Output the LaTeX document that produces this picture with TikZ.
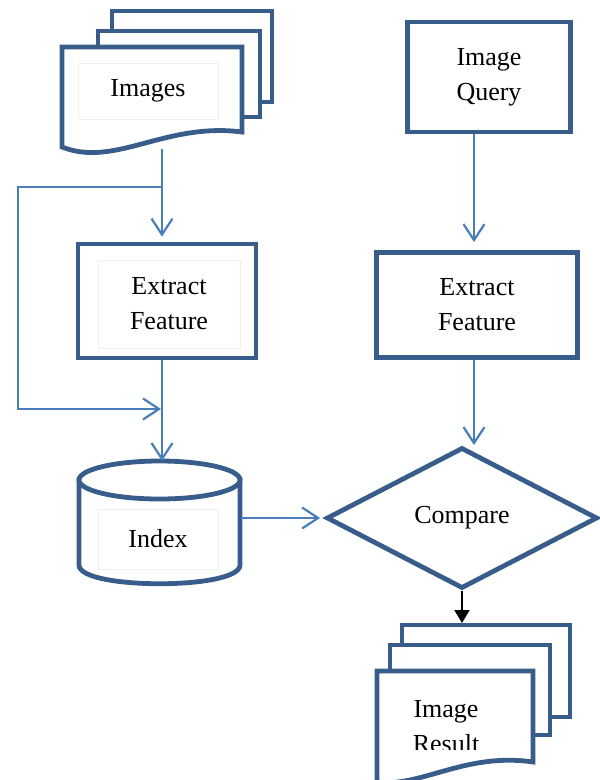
\documentclass[tikz,border=0pt]{standalone}
\usepackage{fontspec}
\setmainfont{Liberation Serif}
\usetikzlibrary{arrows.meta,shapes.geometric}
\definecolor{boxblue}{HTML}{385D8A}
\definecolor{lineblue}{HTML}{4A7EBB}
\definecolor{framegray}{HTML}{EFEFEF}

\begin{document}
\begin{tikzpicture}[x=1pt, y=-1pt,
  box/.style={draw=boxblue, line width=4.8pt, fill=white, align=center},
  page/.style={draw=boxblue, line width=4.8pt, fill=white},
  frame/.style={draw=framegray, line width=1pt, align=center},
  decision/.style={diamond, draw=boxblue, line width=4.8pt, fill=white, inner sep=0pt, aspect=1.9},
  flow/.style={draw=lineblue, line width=2.2pt, -{Straight Barb[length=16pt,width=21pt]}},
  outflow/.style={draw=black, line width=2pt, -{Triangle[length=13pt,width=15pt]}}]
  \fontsize{26}{35}\selectfont
  \useasboundingbox (0,0) rectangle (600,780);

  % images stack
  \draw[page] (112,11) rectangle (272,102);
  \draw[page] (98,31) rectangle (260,117);
  \draw[page] (62,147) -- (62,47) -- (242,47) -- (242,132) .. controls (165,122) and (115,168) .. (62,147) -- cycle;
  \node[frame, minimum width=140, minimum height=56] (images) at (148,91) {Images};

  \node[box, minimum width=178, minimum height=114] (extract1) at (167,301) {};
  \node[frame, minimum width=142, minimum height=88] (feat1) at (169,304) {Extract\\Feature};

  % index cylinder
  \draw[page] (79,480) -- (79,565) .. controls (79,590) and (240,590) .. (240,565) -- (240,480) -- cycle;
  \draw[page] (159.5,480) ellipse [x radius=80.5pt, y radius=19pt];
  \node[frame, minimum width=120, minimum height=60] (index) at (158,539) {Index};
  \coordinate (indextop) at (162,461);
  \coordinate (indexright) at (241,518);

  \node[box, minimum width=163, minimum height=110] (query) at (489,77) {Image\\Query};
  \node[box, minimum width=201, minimum height=105] (extract2) at (477,305) {Extract\\Feature};
  \node[decision, minimum width=271, minimum height=141] (compare) at (462,518) {Compare};

  % result stack
  \draw[page] (402,625) rectangle (570,717);
  \draw[page] (390,645) rectangle (550,735);
  \draw[page] (377,790) -- (377,671) -- (533,671) -- (533,762) .. controls (465,752) and (420,788) .. (377,782);
  \begin{scope}
    \clip (380,680) rectangle (530,749);
    \node[align=center] (result) at (446,727) {Image\\Result};
  \end{scope}

  \coordinate (imgout) at (162,149);
  \coordinate (fork) at (162,187);
  \coordinate (merge) at (161,409);
  \coordinate (qx) at (474,0);
  \coordinate (restop) at (462,623);

  \draw[flow, shorten >=5pt] (imgout) -- (imgout |- extract1.north);
  \draw[flow] (fork) -- ++(-144,0) |- (merge);
  \draw[flow] (extract1.south -| fork) -- (indextop);
  \draw[flow, shorten >=4pt] (indexright) -- (compare.west);
  \draw[flow, shorten >=8pt] (query.south -| qx) -- (extract2.north -| qx);
  \draw[flow] (extract2.south -| qx) -- (qx |- compare.north);
  \draw[outflow] (compare.south) -- (restop);
\end{tikzpicture}
\end{document}
